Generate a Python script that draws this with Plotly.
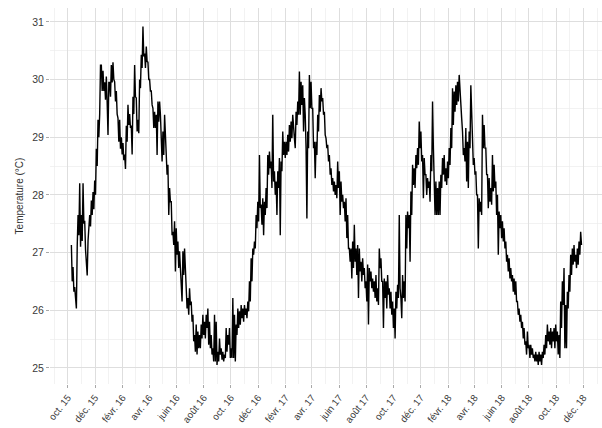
import pandas as pd
import plotly.graph_objects as go

# Daily-ish water temperature readings (°C), in time order
temps_oct15_jan16 = [
    27.13, 26.50, 26.75, 26.32, 26.40, 26.09, 26.03, 27.10, 27.65, 27.30,
    28.20, 27.10, 27.65, 27.20, 28.20, 27.50, 27.55, 27.05, 26.85, 26.60,
    27.20, 27.60, 27.65, 27.45, 27.90, 27.65, 28.05, 27.75, 28.25, 28.00,
    28.80, 28.50, 29.30, 29.00, 29.40, 30.25, 30.25, 29.80, 30.15, 29.80,
    29.95, 29.65, 30.05, 29.60, 29.04, 29.95, 29.95, 29.70, 30.25, 29.95,
    30.30, 30.00, 29.96, 29.62, 29.80, 29.40, 29.33, 28.92,
]
temps_jan16_jun16 = [
    29.30, 28.80, 29.00, 28.70, 28.90, 28.60, 28.70, 28.45, 29.20, 28.92,
    29.56, 29.21, 29.40, 29.16, 29.20, 28.70, 29.70, 29.40, 30.25, 29.70,
    29.68, 29.10, 29.30, 29.07, 30.00, 29.85, 30.43, 30.20, 30.92, 30.40,
    30.45, 30.20, 30.57, 30.31, 30.30, 30.00, 30.00, 29.80, 29.80, 29.56,
    29.50, 29.16, 29.44, 29.16, 29.39, 28.69, 29.62, 29.27, 29.62, 29.39,
    29.10, 28.58, 29.10, 28.69, 29.39, 28.90, 28.81, 28.35, 28.52, 27.65,
    28.12, 27.88, 27.88, 27.30, 27.36, 27.13, 27.54, 26.67, 27.42, 26.96,
    27.19, 26.73, 27.02, 26.67, 26.61, 26.15, 27.02, 26.61,
]
temps_jun16_nov16 = [
    27.07, 26.61, 26.32, 26.03, 26.21, 25.92, 26.38, 26.09, 26.15, 25.80,
    25.92, 25.46, 25.57, 25.28, 25.75, 25.23, 25.63, 25.34, 25.57, 25.34,
    25.75, 25.51, 25.92, 25.57, 25.80, 25.51, 25.92, 25.69, 26.03, 25.40,
    25.80, 25.34, 25.57, 25.23, 25.34, 25.11, 25.92, 25.11, 25.80, 25.05,
    25.28, 25.11, 25.51, 25.23, 25.34, 25.14, 25.28, 25.11, 25.23, 25.17,
    25.69, 25.28, 25.57, 25.40, 25.69, 25.17, 25.34, 25.17, 26.21, 25.17,
    25.92, 25.11, 25.75, 25.57, 26.03, 25.69, 25.98, 25.75, 26.09, 25.86,
    26.03, 25.80, 26.09, 25.92, 26.03, 25.86, 26.15, 25.98,
]
temps_nov16_apr17 = [
    26.50, 26.15, 26.90, 26.50, 27.07, 26.96, 27.19, 27.07, 27.65, 27.42,
    27.88, 27.54, 28.69, 27.77, 27.83, 27.48, 27.94, 27.30, 27.88, 27.65,
    28.12, 27.77, 28.69, 28.35, 28.75, 28.46, 28.58, 28.12, 29.39, 28.23,
    28.41, 28.00, 28.23, 27.65, 28.41, 28.12, 28.64, 27.30, 28.58, 28.41,
    29.10, 28.69, 28.92, 28.64, 28.92, 28.69, 29.04, 28.75, 29.21, 28.92,
    29.27, 28.98, 29.39, 29.10, 28.98, 28.81, 29.44, 29.21, 29.62, 29.39,
    30.14, 29.39, 29.96, 29.56, 29.90, 29.10, 29.68, 29.39, 28.81, 27.59,
    29.10, 28.81, 30.08, 29.50, 29.96, 29.50, 29.50, 28.81,
]
temps_apr17_aug17 = [
    28.92, 28.29, 28.92, 28.69, 29.39, 29.10, 29.73, 29.44, 29.85, 29.62,
    29.68, 29.39, 29.44, 29.04, 28.98, 28.81, 28.87, 28.58, 28.69, 28.35,
    28.46, 28.17, 28.29, 28.06, 28.23, 28.00, 28.17, 27.94, 28.58, 28.12,
    28.41, 27.65, 28.23, 27.88, 28.00, 27.77, 27.88, 27.54, 27.94, 27.25,
    27.65, 27.07, 27.07, 26.84, 27.07, 26.55, 27.19, 26.73, 27.48, 26.84,
    27.07, 26.61, 27.13, 26.21, 27.07, 26.67, 26.84, 26.50, 26.90, 26.61,
    26.73, 26.38, 26.50, 26.15, 26.79, 25.75, 26.73, 26.50, 26.67, 26.38,
    26.55, 26.32, 26.50, 26.21, 26.61, 26.15, 26.38, 26.09,
]
temps_sep17_jan18 = [
    27.07, 26.73, 26.90, 26.50, 26.50, 25.69, 26.55, 26.21, 26.50, 26.03,
    26.61, 26.27, 26.38, 26.03, 26.32, 25.92, 26.15, 25.69, 26.03, 25.51,
    26.32, 26.03, 26.44, 26.21, 27.65, 26.38, 26.21, 25.86, 26.61, 26.21,
    26.50, 26.15, 27.65, 27.07, 27.71, 27.42, 27.65, 26.84, 28.06, 27.65,
    28.52, 28.17, 28.46, 28.12, 28.69, 28.46, 28.81, 28.52, 29.27, 28.81,
    29.10, 28.58, 28.69, 27.94, 28.64, 28.35, 28.35, 28.00, 28.29, 28.12,
    28.23, 27.88, 28.69, 28.41, 29.62, 28.81, 28.23, 27.65, 28.23, 27.65,
    28.12, 27.65, 28.23, 27.65, 28.35, 28.12, 28.64, 28.35,
]
temps_jan18_jun18 = [
    28.69, 28.23, 28.46, 28.17, 28.58, 28.29, 28.81, 28.52, 29.16, 28.81,
    29.85, 29.21, 29.79, 29.44, 29.90, 29.56, 29.96, 29.62, 30.08, 29.73,
    29.50, 29.33, 29.10, 28.69, 28.81, 28.58, 29.16, 28.23, 28.92, 28.12,
    29.10, 28.81, 29.90, 29.39, 28.81, 28.52, 28.64, 28.35, 28.41, 28.00,
    28.00, 27.07, 27.94, 27.71, 27.88, 27.65, 29.39, 28.81, 29.21, 28.81,
    28.81, 28.35, 28.35, 27.77, 28.29, 27.88, 28.12, 27.83, 28.69, 28.06,
    28.52, 28.12, 28.23, 27.65, 28.00, 26.96, 27.71, 27.42, 27.65, 27.25,
    27.54, 27.19, 27.42, 27.07, 27.19, 26.84, 26.96, 26.67,
]
temps_jun18_nov18 = [
    26.90, 26.55, 26.73, 26.50, 26.61, 26.32, 26.55, 26.27, 26.50, 26.15,
    26.15, 25.92, 26.03, 25.80, 25.92, 25.69, 25.80, 25.51, 25.69, 25.40,
    25.46, 25.23, 25.63, 25.34, 25.40, 25.17, 25.40, 25.23, 25.34, 25.17,
    25.23, 25.11, 25.28, 25.11, 25.23, 25.05, 25.28, 25.11, 25.23, 25.05,
    25.28, 25.17, 25.40, 25.23, 25.57, 25.34, 25.75, 25.46, 25.63, 25.40,
    25.69, 25.34, 25.63, 25.46, 25.69, 25.34, 25.75, 25.46, 25.63, 25.23,
    25.57, 25.17, 26.15, 25.69, 26.50, 26.09, 26.73, 25.34, 26.09, 25.34,
    26.32, 26.03, 26.61, 26.32, 26.96, 26.61, 27.07, 26.79, 27.13, 26.84,
    26.96, 26.73, 27.07, 26.79, 27.19, 26.96, 27.36, 27.13,
]

first_day = "2015-10-09"
last_day = "2018-11-27"

tick_dates = [
    "2015-10-01", "2015-12-01", "2016-02-01", "2016-04-01", "2016-06-01",
    "2016-08-01", "2016-10-01", "2016-12-01", "2017-02-01", "2017-04-01",
    "2017-06-01", "2017-08-01", "2017-10-01", "2017-12-01", "2018-02-01",
    "2018-04-01", "2018-06-01", "2018-08-01", "2018-10-01", "2018-12-01",
]
tick_labels = [
    "oct. 15", "déc. 15", "févr. 16", "avr. 16", "juin 16", "août 16",
    "oct. 16", "déc. 16", "févr. 17", "avr. 17", "juin 17", "août 17",
    "oct. 17", "déc. 17", "févr. 18", "avr. 18", "juin 18", "août 18",
    "oct. 18", "déc. 18",
]
minor_dates = [
    "2015-09-01", "2015-11-01", "2016-01-01", "2016-03-01", "2016-05-01",
    "2016-07-01", "2016-09-01", "2016-11-01", "2017-01-01", "2017-03-01",
    "2017-05-01", "2017-07-01", "2017-09-01", "2017-11-01", "2018-01-01",
    "2018-03-01", "2018-05-01", "2018-07-01", "2018-09-01", "2018-11-01",
    "2019-01-01",
]
y_ticks = [25, 26, 27, 28, 29, 30, 31]
y_minor = [24.5, 25.5, 26.5, 27.5, 28.5, 29.5, 30.5, 31.5]

temps = (temps_oct15_jan16 + temps_jan16_jun16 + temps_jun16_nov16 +
         temps_nov16_apr17 + temps_apr17_aug17 + temps_sep17_jan18 +
         temps_jan18_jun18 + temps_jun18_nov18)
dates = pd.date_range(first_day, last_day, periods=len(temps))

fig = go.Figure(go.Scatter(
    x=dates, y=temps, mode="lines",
    line=dict(color="black", width=1.4),
    hoverinfo="skip", showlegend=False,
))

font = "Liberation Sans, Arial, sans-serif"
grid_major = "#dedede"
grid_minor = "#ececec"

fig.update_layout(
    width=602, height=428,
    margin=dict(l=50, r=0, t=8, b=44, autoexpand=False),
    paper_bgcolor="white", plot_bgcolor="white",
    font=dict(family=font, size=10, color="#3a3a3a"),
    hovermode=False,
    xaxis=dict(
        range=["2015-08-22", "2019-01-12"],
        tickmode="array", tickvals=tick_dates, ticktext=tick_labels,
        tickangle=-52, ticks="outside", ticklen=3, tickcolor="#a8a8a8",
        tickfont=dict(size=9.8, color="#3a3a3a"),
        showgrid=True, gridcolor=grid_major, gridwidth=1,
        minor=dict(tickmode="array", tickvals=minor_dates, showgrid=True,
                   gridcolor=grid_minor, gridwidth=0.7, ticks=""),
        zeroline=False, showline=False, automargin=False,
    ),
    yaxis=dict(
        range=[24.72, 31.24],
        tickmode="array", tickvals=y_ticks,
        ticks="outside", ticklen=3, tickcolor="#a8a8a8",
        tickfont=dict(size=10.5, color="#3a3a3a"),
        showgrid=True, gridcolor=grid_major, gridwidth=1,
        minor=dict(tickmode="array", tickvals=y_minor, showgrid=True,
                   gridcolor=grid_minor, gridwidth=0.7, ticks=""),
        zeroline=False, showline=False, automargin=False,
        title=dict(text="Temperature (°C)", font=dict(size=10, color="#333333"),
                   standoff=6),
    ),
)

fig.write_html("out.html", config={"displayModeBar": False, "staticPlot": True},
               post_script="document.body.style.margin='0px';")
